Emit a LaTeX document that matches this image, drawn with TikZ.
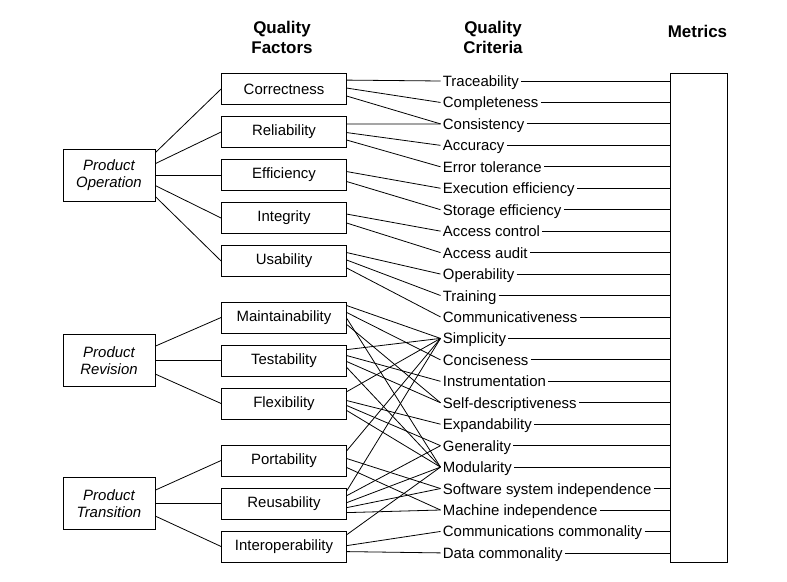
\documentclass[tikz,border=0pt]{standalone}
\usepackage{fontspec}
\setmainfont{Liberation Sans}

\tikzstyle{factor} = [rectangle, draw, minimum width=125bp, minimum height=31bp,
	inner sep=0pt, font=\fontsize{15}{18}\selectfont]
\tikzstyle{group} = [rectangle, draw, minimum width=92bp, minimum height=52bp,
	inner sep=0pt, align=center, font=\fontsize{15}{17}\selectfont\itshape]
\tikzstyle{crit} = [anchor=west, inner xsep=2bp, inner ysep=0pt,
	text height=11bp, text depth=0pt, font=\fontsize{15}{18}\selectfont]
\tikzstyle{head} = [align=center, font=\fontsize{17}{20}\selectfont\bfseries]

\begin{document}
\begin{tikzpicture}[x=1bp, y=-1bp, node distance=43bp, line width=0.8bp]
	\useasboundingbox (0,0) rectangle (787,582);
	
	% column heads
	\node [head] (hfac) at (282,37) {Quality\\Factors};
	\node [head] (hcri) at (493,37) {Quality\\Criteria};
	\node [head] (hmet) at (697.5,31) {Metrics};
	
	% quality factors
	\node [factor] (corr) at (284,89) {Correctness};
	\node [factor, below of=corr] (reli) {Reliability};
	\node [factor, below of=reli] (effi) {Efficiency};
	\node [factor, below of=effi] (inte) {Integrity};
	\node [factor, below of=inte] (usab) {Usability};
	\node [factor, below of=usab, node distance=56.5bp] (main) {Maintainability};
	\node [factor, below of=main] (test) {Testability};
	\node [factor, below of=test] (flex) {Flexibility};
	\node [factor, below of=flex, node distance=57bp] (port) {Portability};
	\node [factor, below of=port] (reus) {Reusability};
	\node [factor, below of=reus] (inop) {Interoperability};
	
	\node [group, left of=effi, node distance=175bp] (poper) {Product\\Operation};
	\node [group, left of=test, node distance=175bp] (previ) {Product\\Revision};
	\node [group, left of=reus, node distance=175bp] (ptran) {Product\\Transition};
	
	% quality criteria
	\node [crit] (trac) at (440.5,81) {Traceability};
	\node [crit] (comp) at (440.5,102.45) {Completeness};
	\node [crit] (cons) at (440.5,123.9) {Consistency};
	\node [crit] (accu) at (440.5,145.35) {Accuracy};
	\node [crit] (erro) at (440.5,166.8) {Error tolerance};
	\node [crit] (exec) at (440.5,188.25) {Execution efficiency};
	\node [crit] (stor) at (440.5,209.7) {Storage efficiency};
	\node [crit] (acon) at (440.5,231.15) {Access control};
	\node [crit] (aaud) at (440.5,252.6) {Access audit};
	\node [crit] (opab) at (440.5,274.05) {Operability};
	\node [crit] (trai) at (440.5,295.5) {Training};
	\node [crit] (comm) at (440.5,316.95) {Communicativeness};
	\node [crit] (simp) at (440.5,338.4) {Simplicity};
	\node [crit] (conc) at (440.5,359.85) {Conciseness};
	\node [crit] (inst) at (440.5,381.3) {Instrumentation};
	\node [crit] (self) at (440.5,402.75) {Self-descriptiveness};
	\node [crit] (expa) at (440.5,424.2) {Expandability};
	\node [crit] (gene) at (440.5,445.65) {Generality};
	\node [crit] (modu) at (440.5,467.1) {Modularity};
	\node [crit] (ssin) at (440.5,488.55) {Software system independence};
	\node [crit] (mind) at (440.5,510) {Machine independence};
	\node [crit] (ccom) at (440.5,531.45) {Communications commonality};
	\node [crit] (dcom) at (440.5,552.9) {Data commonality};
	
	\node [draw, anchor=north west, minimum width=57bp, minimum height=489bp] (metr) at (670,73) {};
	
	% product groups to factors
	\path
	([yshift=-4bp]poper.north east) edge (corr.west)
	([yshift=-15bp]poper.north east) edge (reli.west)
	(poper.east) edge (effi.west)
	([yshift=-37bp]poper.north east) edge (inte.west)
	([yshift=-48bp]poper.north east) edge (usab.west)
	([yshift=-12bp]previ.north east) edge (main.west)
	(previ.east) edge (test.west)
	([yshift=-40bp]previ.north east) edge (flex.west)
	([yshift=-13bp]ptran.north east) edge (port.west)
	(ptran.east) edge (reus.west)
	([yshift=-39bp]ptran.north east) edge (inop.west);
	
	% factors to criteria
	\path
	([yshift=-7bp]corr.north east) edge (trac.west)
	([yshift=-15bp]corr.north east) edge (comp.west)
	([yshift=-23bp]corr.north east) edge (cons.west)
	([yshift=-8bp]reli.north east) edge (cons.west)
	([yshift=-16.5bp]reli.north east) edge (accu.west)
	([yshift=-24bp]reli.north east) edge (erro.west)
	([yshift=-12.5bp]effi.north east) edge (exec.west)
	([yshift=-22.5bp]effi.north east) edge (stor.west)
	([yshift=-12bp]inte.north east) edge (acon.west)
	([yshift=-21bp]inte.north east) edge (aaud.west)
	([yshift=-7.5bp]usab.north east) edge (opab.west)
	([yshift=-15bp]usab.north east) edge (trai.west)
	([yshift=-23bp]usab.north east) edge (comm.west);
	
	\path
	([yshift=-4bp]main.north east) edge (simp.west)
	([yshift=-11bp]main.north east) edge (conc.west)
	([yshift=-17bp]main.north east) edge (modu.west)
	([yshift=-23bp]main.north east) edge (self.west)
	([yshift=-5bp]test.north east) edge (simp.west)
	([yshift=-11bp]test.north east) edge (inst.west)
	([yshift=-17bp]test.north east) edge (self.west)
	([yshift=-23bp]test.north east) edge (modu.west)
	([yshift=-4bp]flex.north east) edge (simp.west)
	([yshift=-13bp]flex.north east) edge (expa.west)
	([yshift=-18bp]flex.north east) edge (gene.west)
	([yshift=-23bp]flex.north east) edge (modu.west)
	([yshift=-6bp]port.north east) edge (simp.west)
	([yshift=-14bp]port.north east) edge (ssin.west)
	([yshift=-23bp]port.north east) edge (mind.west)
	([yshift=-3bp]reus.north east) edge (simp.west)
	([yshift=-8bp]reus.north east) edge (gene.west)
	([yshift=-15bp]reus.north east) edge (modu.west)
	([yshift=-20bp]reus.north east) edge (ssin.west)
	([yshift=-25bp]reus.north east) edge (mind.west)
	([yshift=-4bp]inop.north east) edge (modu.west)
	([yshift=-15bp]inop.north east) edge (ccom.west)
	([yshift=-21bp]inop.north east) edge (dcom.west);
	
	% criteria to metrics
	\path
	(trac.east) edge (trac.east -| metr.west)
	(comp.east) edge (comp.east -| metr.west)
	(cons.east) edge (cons.east -| metr.west)
	(accu.east) edge (accu.east -| metr.west)
	(erro.east) edge (erro.east -| metr.west)
	(exec.east) edge (exec.east -| metr.west)
	(stor.east) edge (stor.east -| metr.west)
	(acon.east) edge (acon.east -| metr.west)
	(aaud.east) edge (aaud.east -| metr.west)
	(opab.east) edge (opab.east -| metr.west)
	(trai.east) edge (trai.east -| metr.west)
	(comm.east) edge (comm.east -| metr.west)
	(simp.east) edge (simp.east -| metr.west)
	(conc.east) edge (conc.east -| metr.west)
	(inst.east) edge (inst.east -| metr.west)
	(self.east) edge (self.east -| metr.west)
	(expa.east) edge (expa.east -| metr.west)
	(gene.east) edge (gene.east -| metr.west)
	(modu.east) edge (modu.east -| metr.west)
	(ssin.east) edge (ssin.east -| metr.west)
	(mind.east) edge (mind.east -| metr.west)
	(ccom.east) edge (ccom.east -| metr.west)
	(dcom.east) edge (dcom.east -| metr.west);
\end{tikzpicture}
\end{document}
